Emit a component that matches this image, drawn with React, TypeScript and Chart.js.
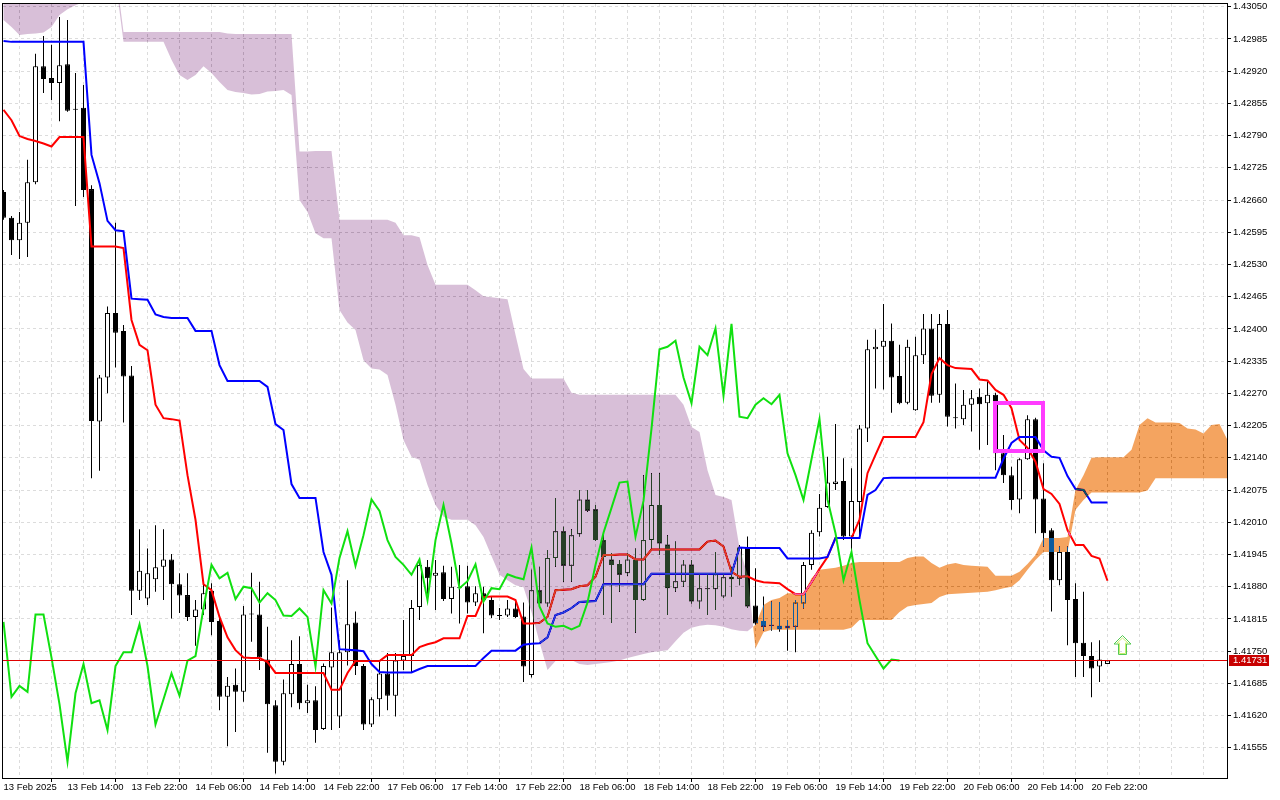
import { useEffect, useRef } from 'react'
import { Chart, registerables } from 'chart.js'

Chart.register(...registerables)

// EURUSD-like H1 ichimoku view, bar index 0 = 13 Feb 06:00
const dateLabels = [
  '13 Feb 2025', '13 Feb 14:00', '13 Feb 22:00', '14 Feb 06:00', '14 Feb 14:00', '14 Feb 22:00',
  '17 Feb 06:00', '17 Feb 14:00', '17 Feb 22:00', '18 Feb 06:00', '18 Feb 14:00', '18 Feb 22:00',
  '19 Feb 06:00', '19 Feb 14:00', '19 Feb 22:00', '20 Feb 06:00', '20 Feb 14:00', '20 Feb 22:00',
]

const priceTicks = [
  1.41555, 1.4162, 1.41685, 1.4175, 1.41815, 1.4188, 1.41945, 1.4201, 1.42075, 1.4214, 1.42205, 1.4227,
  1.42335, 1.424, 1.42465, 1.4253, 1.42595, 1.4266, 1.42725, 1.4279, 1.42855, 1.4292, 1.42985, 1.4305,
]

const opens = [
  1.42676, 1.42624, 1.42579, 1.42614, 1.42696, 1.42930, 1.42906, 1.42896, 1.42934, 1.42844,
  1.42846, 1.42682, 1.42213, 1.42302, 1.42432, 1.42396, 1.42306, 1.41872, 1.41856, 1.41895,
  1.41920, 1.41935, 1.41885, 1.41863, 1.41819, 1.41834, 1.41872, 1.41811, 1.41658, 1.41682,
  1.41668, 1.41825, 1.41824, 1.41733, 1.41641, 1.41527, 1.41663, 1.41724, 1.41645, 1.41651,
  1.41593, 1.41717, 1.41618, 1.41748, 1.41808, 1.41720, 1.41602, 1.41653, 1.41705, 1.41660,
  1.41731, 1.41740, 1.41839, 1.41920, 1.41902, 1.41909, 1.41855, 1.41879, 1.41881, 1.41848,
  1.41867, 1.41853, 1.41823, 1.41822, 1.41836, 1.41820, 1.41702, 1.41873, 1.41846, 1.41938,
  1.41992, 1.41922, 1.41986, 1.42056, 1.42036, 1.41974, 1.41935, 1.41926, 1.41907, 1.41934,
  1.41853, 1.41974, 1.42045, 1.41965, 1.41877, 1.41890, 1.41925, 1.41850, 1.41877, 1.41875,
  1.41860, 1.41900, 1.41896, 1.41959, 1.41842, 1.41811, 1.41802, 1.41801, 1.41796, 1.41799,
  1.41846, 1.41924, 1.41990, 1.42041, 1.42087, 1.42093, 1.41981, 1.42051, 1.42199, 1.42359,
  1.42364, 1.42376, 1.42305, 1.42251, 1.42236, 1.42347, 1.42401, 1.42267, 1.42410, 1.42221,
  1.42218, 1.42247, 1.42263, 1.42250, 1.42267, 1.42149, 1.42105, 1.42056, 1.42137, 1.42218,
  1.42058, 1.41994, 1.41893, 1.41950, 1.41855, 1.41767, 1.41740, 1.41719, 1.41724,
]

const highs = [
  1.42680, 1.42628, 1.42636, 1.42741, 1.42955, 1.42991, 1.42973, 1.43029, 1.43023, 1.42916,
  1.42892, 1.42690, 1.42307, 1.42445, 1.42614, 1.42408, 1.42325, 1.41996, 1.41957, 1.42004,
  1.41996, 1.41946, 1.41907, 1.41907, 1.41853, 1.41887, 1.41887, 1.41817, 1.41698, 1.41715,
  1.41841, 1.41908, 1.41890, 1.41799, 1.41651, 1.41693, 1.41772, 1.41780, 1.41682, 1.41679,
  1.41725, 1.41838, 1.41772, 1.41893, 1.41830, 1.41724, 1.41657, 1.41732, 1.41746, 1.41746,
  1.41813, 1.41853, 1.41938, 1.41934, 1.41934, 1.41922, 1.41920, 1.41924, 1.41922, 1.41881,
  1.41880, 1.41861, 1.41837, 1.41853, 1.41853, 1.41848, 1.41914, 1.41920, 1.41954, 1.42059,
  1.42001, 1.41996, 1.42075, 1.42075, 1.42045, 1.41984, 1.41948, 1.41934, 1.41948, 1.41957,
  1.42105, 1.42109, 1.42109, 1.41984, 1.41971, 1.41934, 1.41934, 1.41907, 1.41907, 1.41950,
  1.41907, 1.41920, 1.41964, 1.41981, 1.41917, 1.41860, 1.41850, 1.41849, 1.41813, 1.41853,
  1.41930, 1.41994, 1.42067, 1.42142, 1.42208, 1.42139, 1.42119, 1.42206, 1.42378, 1.42399,
  1.42450, 1.42411, 1.42368, 1.42378, 1.42384, 1.42430, 1.42430, 1.42430, 1.42438, 1.42290,
  1.42277, 1.42277, 1.42280, 1.42294, 1.42271, 1.42186, 1.42122, 1.42139, 1.42226, 1.42221,
  1.42129, 1.41998, 1.41961, 1.41961, 1.41887, 1.41870, 1.41768, 1.41772, 1.41731,
]

const lows = [
  1.42620, 1.42549, 1.42541, 1.42545, 1.42692, 1.42876, 1.42862, 1.42819, 1.42838, 1.42648,
  1.42666, 1.42099, 1.42114, 1.42270, 1.42322, 1.42211, 1.41823, 1.41853, 1.41843, 1.41870,
  1.41853, 1.41816, 1.41827, 1.41811, 1.41761, 1.41823, 1.41782, 1.41631, 1.41558, 1.41587,
  1.41648, 1.41769, 1.41712, 1.41545, 1.41503, 1.41520, 1.41637, 1.41633, 1.41625, 1.41565,
  1.41591, 1.41591, 1.41595, 1.41721, 1.41702, 1.41591, 1.41597, 1.41618, 1.41631, 1.41618,
  1.41712, 1.41708, 1.41813, 1.41853, 1.41833, 1.41851, 1.41826, 1.41806, 1.41826, 1.41841,
  1.41786, 1.41817, 1.41813, 1.41819, 1.41817, 1.41688, 1.41697, 1.41845, 1.41840, 1.41920,
  1.41890, 1.41890, 1.41981, 1.42031, 1.41972, 1.41823, 1.41807, 1.41870, 1.41902, 1.41787,
  1.41851, 1.41957, 1.41944, 1.41823, 1.41870, 1.41880, 1.41846, 1.41836, 1.41823, 1.41833,
  1.41857, 1.41860, 1.41883, 1.41837, 1.41803, 1.41791, 1.41791, 1.41789, 1.41751, 1.41748,
  1.41836, 1.41914, 1.41981, 1.42039, 1.42075, 1.41974, 1.41954, 1.41981, 1.42172, 1.42280,
  1.42278, 1.42231, 1.42248, 1.42248, 1.42235, 1.42329, 1.42251, 1.42251, 1.42203, 1.42199,
  1.42206, 1.42193, 1.42156, 1.42166, 1.42115, 1.42089, 1.42035, 1.42028, 1.42136, 1.41988,
  1.41961, 1.41830, 1.41883, 1.41762, 1.41698, 1.41698, 1.41657, 1.41688, 1.41724,
]

const closes = [
  1.42624, 1.42579, 1.42614, 1.42696, 1.42930, 1.42904, 1.42896, 1.42932, 1.42840, 1.42842,
  1.42680, 1.42214, 1.42302, 1.42432, 1.42392, 1.42304, 1.41872, 1.41912, 1.41907, 1.41919,
  1.41935, 1.41885, 1.41862, 1.41819, 1.41834, 1.41867, 1.41809, 1.41658, 1.41680, 1.41668,
  1.41824, 1.41824, 1.41737, 1.41643, 1.41527, 1.41665, 1.41724, 1.41645, 1.41651, 1.41591,
  1.41720, 1.41748, 1.41748, 1.41804, 1.41720, 1.41602, 1.41653, 1.41705, 1.41660, 1.41731,
  1.41740, 1.41837, 1.41924, 1.41897, 1.41908, 1.41855, 1.41880, 1.41877, 1.41848, 1.41867,
  1.41853, 1.41822, 1.41821, 1.41836, 1.41819, 1.41719, 1.41873, 1.41846, 1.41938, 1.41992,
  1.41922, 1.41984, 1.42056, 1.42033, 1.41974, 1.41940, 1.41924, 1.41904, 1.41935, 1.41853,
  1.41974, 1.42045, 1.41967, 1.41877, 1.41891, 1.41925, 1.41850, 1.41877, 1.41875, 1.41905,
  1.41899, 1.41895, 1.41959, 1.41840, 1.41806, 1.41799, 1.41801, 1.41794, 1.41801, 1.41848,
  1.41924, 1.41989, 1.42039, 1.42090, 1.42092, 1.41981, 1.42053, 1.42199, 1.42359, 1.42364,
  1.42376, 1.42302, 1.42250, 1.42364, 1.42347, 1.42401, 1.42265, 1.42410, 1.42223, 1.42220,
  1.42247, 1.42260, 1.42248, 1.42267, 1.42149, 1.42105, 1.42055, 1.42137, 1.42218, 1.42056,
  1.41988, 1.41893, 1.41950, 1.41853, 1.41766, 1.41740, 1.41715, 1.41733, 1.41731,
]

const tenkan = [
  1.42842, 1.42821, 1.42789, 1.42783, 1.42779, 1.42774, 1.42768, 1.42787, 1.42787, 1.42787,
  1.42787, 1.42566, 1.42566, 1.42566, 1.42566, 1.42563, 1.42418, 1.42368, 1.42357, 1.42247,
  1.42220, 1.42218, 1.42215, 1.42105, 1.42015, 1.41885, 1.41873, 1.41819, 1.41778, 1.41752,
  1.41737, 1.41736, 1.41736, 1.41728, 1.41706, 1.41706, 1.41706, 1.41706, 1.41706, 1.41706,
  1.41706, 1.41672, 1.41672, 1.41706, 1.41730, 1.41730, 1.41730, 1.41730, 1.41742, 1.41742,
  1.41742, 1.41742, 1.41758, 1.41764, 1.41768, 1.41776, 1.41776, 1.41776, 1.41821, 1.41821,
  1.41859, 1.41860, 1.41860, 1.41860, 1.41853, 1.41806, 1.41806, 1.41807, 1.41819, 1.41873,
  1.41874, 1.41875, 1.41881, 1.41883, 1.41900, 1.41944, 1.41944, 1.41945, 1.41945, 1.41935,
  1.41935, 1.41955, 1.41955, 1.41955, 1.41955, 1.41955, 1.41955, 1.41955, 1.41971, 1.41973,
  1.41961, 1.41910, 1.41900, 1.41901, 1.41893, 1.41889, 1.41888, 1.41887, 1.41875, 1.41865,
  1.41865, 1.41889, 1.41916, 1.41940, 1.41978, 1.41978, 1.41978, 1.42015, 1.42109, 1.42146,
  1.42182, 1.42182, 1.42182, 1.42182, 1.42182, 1.42212, 1.42309, 1.42341, 1.42327, 1.42321,
  1.42320, 1.42319, 1.42298, 1.42296, 1.42277, 1.42267, 1.42240, 1.42176, 1.42160, 1.42132,
  1.42077, 1.42067, 1.42047, 1.41994, 1.41964, 1.41964, 1.41942, 1.41937, 1.41892,
]

const kijun = [
  1.42981, 1.42979, 1.42979, 1.42979, 1.42979, 1.42979, 1.42979, 1.42979, 1.42979, 1.42979,
  1.42979, 1.42751, 1.42694, 1.42618, 1.42599, 1.42597, 1.42461, 1.42460, 1.42459, 1.42429,
  1.42424, 1.42422, 1.42422, 1.42422, 1.42396, 1.42396, 1.42396, 1.42327, 1.42295, 1.42295,
  1.42295, 1.42295, 1.42295, 1.42283, 1.42208, 1.42196, 1.42087, 1.42059, 1.42059, 1.42059,
  1.41950, 1.41904, 1.41754, 1.41753, 1.41752, 1.41750, 1.41724, 1.41708, 1.41707, 1.41707,
  1.41707, 1.41707, 1.41714, 1.41720, 1.41720, 1.41720, 1.41720, 1.41720, 1.41720, 1.41720,
  1.41736, 1.41751, 1.41751, 1.41751, 1.41751, 1.41763, 1.41765, 1.41766, 1.41778, 1.41823,
  1.41828, 1.41837, 1.41849, 1.41850, 1.41851, 1.41885, 1.41885, 1.41885, 1.41885, 1.41885,
  1.41885, 1.41906, 1.41906, 1.41906, 1.41906, 1.41906, 1.41906, 1.41906, 1.41906, 1.41906,
  1.41906, 1.41906, 1.41959, 1.41958, 1.41958, 1.41958, 1.41958, 1.41958, 1.41937, 1.41937,
  1.41937, 1.41937, 1.41937, 1.41940, 1.41978, 1.41978, 1.41978, 1.41978, 1.42065, 1.42075,
  1.42099, 1.42100, 1.42100, 1.42100, 1.42100, 1.42100, 1.42100, 1.42100, 1.42100, 1.42100,
  1.42100, 1.42100, 1.42100, 1.42100, 1.42100, 1.42138, 1.42170, 1.42182, 1.42182, 1.42182,
  1.42155, 1.42142, 1.42140, 1.42103, 1.42077, 1.42075, 1.42050, 1.42050, 1.42050,
]

// senkou spans, already shifted 26 bars forward (runs past the last candle)
const spanA = [
  1.43023, 1.43009, 1.42993, 1.42995, 1.42996, 1.42998, 1.43009, 1.43033, 1.43045, 1.43053,
  1.43059, 1.43104, 1.43104, 1.43104, 1.43104, 1.42979, 1.42979, 1.42979, 1.42979, 1.42979,
  1.42979, 1.42943, 1.42912, 1.42902, 1.42912, 1.42930, 1.42916, 1.42898, 1.42882, 1.42878,
  1.42876, 1.42873, 1.42874, 1.42879, 1.42880, 1.42882, 1.42872, 1.42660, 1.42636, 1.42593,
  1.42583, 1.42583, 1.42438, 1.42413, 1.42398, 1.42337, 1.42320, 1.42318, 1.42307, 1.42247,
  1.42176, 1.42142, 1.42136, 1.42085, 1.42045, 1.42021, 1.42015, 1.42015, 1.42015, 1.42004,
  1.41980, 1.41942, 1.41904, 1.41893, 1.41883, 1.41879, 1.41829, 1.41768, 1.41712, 1.41730,
  1.41732, 1.41732, 1.41724, 1.41722, 1.41724, 1.41726, 1.41728, 1.41731, 1.41736, 1.41740,
  1.41744, 1.41748, 1.41750, 1.41752, 1.41770, 1.41787, 1.41797, 1.41801, 1.41803, 1.41802,
  1.41799, 1.41794, 1.41791, 1.41790, 1.41803, 1.41843, 1.41853, 1.41857, 1.41867, 1.41867,
  1.41867, 1.41897, 1.41914, 1.41916, 1.41918, 1.41922, 1.41928, 1.41930, 1.41930, 1.41930,
  1.41930, 1.41930, 1.41930, 1.41938, 1.41941, 1.41941, 1.41928, 1.41918, 1.41925, 1.41928,
  1.41924, 1.41922, 1.41921, 1.41920, 1.41902, 1.41902, 1.41902, 1.41910, 1.41926, 1.41944,
  1.41978, 1.41978, 1.41978, 1.41980, 1.42075, 1.42105, 1.42140, 1.42141, 1.42141, 1.42141,
  1.42141, 1.42156, 1.42206, 1.42220, 1.42211, 1.42211, 1.42211, 1.42210, 1.42199, 1.42197,
  1.42189, 1.42206, 1.42208, 1.42176,
]

const spanB = [
  1.43124, 1.43124, 1.43124, 1.43124, 1.43124, 1.43124, 1.43124, 1.43124, 1.43124, 1.43124,
  1.43124, 1.43124, 1.43124, 1.43124, 1.43124, 1.42999, 1.42999, 1.42999, 1.42999, 1.42999,
  1.42999, 1.42999, 1.42999, 1.42999, 1.42999, 1.42999, 1.42999, 1.42999, 1.42996, 1.42995,
  1.42995, 1.42995, 1.42995, 1.42995, 1.42995, 1.42995, 1.42995, 1.42758, 1.42758, 1.42759,
  1.42759, 1.42759, 1.42620, 1.42620, 1.42620, 1.42620, 1.42620, 1.42620, 1.42620, 1.42614,
  1.42589, 1.42589, 1.42585, 1.42529, 1.42489, 1.42489, 1.42489, 1.42489, 1.42489, 1.42478,
  1.42466, 1.42464, 1.42462, 1.42460, 1.42388, 1.42319, 1.42300, 1.42300, 1.42300, 1.42300,
  1.42300, 1.42271, 1.42267, 1.42267, 1.42267, 1.42267, 1.42267, 1.42267, 1.42267, 1.42267,
  1.42267, 1.42267, 1.42267, 1.42267, 1.42267, 1.42247, 1.42202, 1.42192, 1.42115, 1.42065,
  1.42061, 1.42055, 1.41958, 1.41904, 1.41756, 1.41788, 1.41793, 1.41793, 1.41793, 1.41793,
  1.41793, 1.41793, 1.41793, 1.41793, 1.41793, 1.41793, 1.41797, 1.41813, 1.41813, 1.41813,
  1.41813, 1.41813, 1.41829, 1.41840, 1.41843, 1.41845, 1.41847, 1.41859, 1.41865, 1.41866,
  1.41867, 1.41868, 1.41869, 1.41870, 1.41873, 1.41877, 1.41880, 1.41893, 1.41914, 1.41934,
  1.41950, 1.41950, 1.41950, 1.41950, 1.42035, 1.42055, 1.42070, 1.42070, 1.42070, 1.42070,
  1.42070, 1.42070, 1.42070, 1.42074, 1.42099, 1.42099, 1.42099, 1.42099, 1.42099, 1.42099,
  1.42099, 1.42099, 1.42099, 1.42099,
]

const CHIKOU_SHIFT = 26
const lastPrice = 1.41731
const boxBars = [124, 130]
const boxPrices = [1.42251, 1.42153]
const arrowBar = 140
const arrowPrice = 1.41782

const gridBars = Array.from({ length: 39 }, (_, k) => k * 4)
const font = { family: 'Liberation Sans', size: 9.5 }
const isLabelled = (v: number) => v % 8 === 0 && v / 8 < dateLabels.length

const paperPlugin = {
  id: 'paper',
  beforeDraw(chart: Chart) {
    const { ctx, width, height } = chart
    ctx.save()
    ctx.fillStyle = '#ffffff'
    ctx.fillRect(0, 0, width, height)
    ctx.restore()
  },
}

// MT5 paints the kumo in XOR mode, so candles and lines below it come out inverted
const kumoPlugin = {
  id: 'kumo',
  afterDatasetDraw(chart: Chart, args: { index: number }) {
    if (chart.data.datasets[args.index].label !== 'Kijun-sen') return
    const { ctx, chartArea: a, scales } = chart
    const xs = scales.x
    const ys = scales.y
    const bull = new Path2D()
    const bear = new Path2D()
    const poly = (p: Path2D, pts: number[][]) => {
      p.moveTo(pts[0][0], pts[0][1])
      for (let k = 1; k < pts.length; k++) p.lineTo(pts[k][0], pts[k][1])
      p.closePath()
    }
    for (let i = 0; i < spanA.length - 1; i++) {
      const x0 = xs.getPixelForValue(i)
      const x1 = xs.getPixelForValue(i + 1)
      const a0 = ys.getPixelForValue(spanA[i])
      const a1 = ys.getPixelForValue(spanA[i + 1])
      const b0 = ys.getPixelForValue(spanB[i])
      const b1 = ys.getPixelForValue(spanB[i + 1])
      const d0 = spanA[i] - spanB[i]
      const d1 = spanA[i + 1] - spanB[i + 1]
      if (d0 * d1 < 0) {
        const t = d0 / (d0 - d1)
        const xc = x0 + (x1 - x0) * t
        const yc = a0 + (a1 - a0) * t
        poly(d0 > 0 ? bull : bear, [[x0, a0], [xc, yc], [x0, b0]])
        poly(d1 > 0 ? bull : bear, [[xc, yc], [x1, a1], [x1, b1]])
      } else {
        poly(d0 + d1 >= 0 ? bull : bear, [[x0, a0], [x1, a1], [x1, b1], [x0, b0]])
      }
    }
    ctx.save()
    ctx.beginPath()
    ctx.rect(a.left, a.top, a.right - a.left, a.bottom - a.top)
    ctx.clip()
    ctx.globalCompositeOperation = 'difference'
    ctx.fillStyle = '#0b5b9f' // inverse of sandybrown
    ctx.fill(bull)
    ctx.fillStyle = '#274027' // inverse of thistle
    ctx.fill(bear)
    ctx.restore()
  },
}

const overlayPlugin = {
  id: 'overlay',
  afterDatasetsDraw(chart: Chart) {
    const { ctx, chartArea: a, scales } = chart
    const xs = scales.x
    const ys = scales.y
    ctx.save()
    ctx.beginPath()
    ctx.rect(a.left, a.top, a.right - a.left, a.bottom - a.top)
    ctx.clip()

    const py = Math.floor(ys.getPixelForValue(lastPrice)) + 0.5
    ctx.strokeStyle = '#e00000'
    ctx.lineWidth = 1
    ctx.beginPath()
    ctx.moveTo(a.left, py)
    ctx.lineTo(a.right, py)
    ctx.stroke()

    const rx0 = Math.round(xs.getPixelForValue(boxBars[0])) - 1
    const rx1 = Math.round(xs.getPixelForValue(boxBars[1])) - 1
    const ry0 = Math.round(ys.getPixelForValue(boxPrices[0]))
    const ry1 = Math.round(ys.getPixelForValue(boxPrices[1]))
    ctx.strokeStyle = '#ff3cff'
    ctx.lineWidth = 4
    ctx.strokeRect(rx0, ry0, rx1 - rx0, ry1 - ry0)

    const ax = Math.round(xs.getPixelForValue(arrowBar)) - 1.5
    const ay = Math.round(ys.getPixelForValue(arrowPrice)) + 0.5
    const outer = [[0, 0], [8.5, 8.5], [4, 8.5], [4, 19], [-4, 19], [-4, 8.5], [-8.5, 8.5]]
    const inner = [[0, 2.5], [5.5, 7.5], [3, 7.5], [3, 18], [-3, 18], [-3, 7.5], [-5.5, 7.5]]
    const arrow = (pts: number[][], color: string) => {
      ctx.beginPath()
      pts.forEach(([dx, dy], k) => (k ? ctx.lineTo(ax + dx, ay + dy) : ctx.moveTo(ax + dx, ay + dy)))
      ctx.closePath()
      ctx.strokeStyle = color
      ctx.lineWidth = 1
      ctx.stroke()
    }
    ctx.fillStyle = '#ffffff'
    arrow(outer, '#52c952')
    arrow(inner, '#c9ee72')
    ctx.restore()
  },
  afterDraw(chart: Chart) {
    const { ctx, chartArea: a, scales } = chart
    ctx.save()
    ctx.strokeStyle = '#000000'
    ctx.lineWidth = 1
    ctx.strokeRect(a.left - 0.5, a.top - 0.5, a.right - a.left + 1, a.bottom - a.top + 1)

    const py = Math.floor(scales.y.getPixelForValue(lastPrice))
    ctx.fillStyle = '#c80000'
    ctx.fillRect(a.right + 2, py - 5, 40, 11)
    ctx.fillStyle = '#ffffff'
    ctx.font = '9.5px "Liberation Sans"'
    ctx.textAlign = 'left'
    ctx.textBaseline = 'middle'
    ctx.fillText(lastPrice.toFixed(5), a.right + 6, py + 0.5)
    ctx.restore()
  },
}

export default function App() {
  const canvasRef = useRef<HTMLCanvasElement>(null)

  useEffect(() => {
    if (!canvasRef.current) return

    const chart = new Chart(canvasRef.current, {
      type: 'line',
      data: {
        datasets: [
          {
            type: 'bar',
            label: 'wicks',
            data: highs.map((h, i) => ({ x: i, y: [lows[i], h] })),
            backgroundColor: '#000000',
            borderWidth: 0,
            barThickness: 1,
            grouped: false,
            inflateAmount: 0,
            order: 6,
            clip: 0,
          },
          {
            type: 'bar',
            label: 'bodies',
            data: opens.map((o, i) => ({ x: i, y: [o, closes[i]] })),
            backgroundColor: opens.map((o, i) => (closes[i] >= o ? '#ffffff' : '#000000')),
            borderColor: '#000000',
            borderWidth: 1,
            borderSkipped: false,
            barThickness: 5,
            minBarLength: 1,
            grouped: false,
            inflateAmount: 0,
            order: 5,
            clip: 0,
          },
          {
            label: 'Tenkan-sen',
            data: tenkan.map((v, i) => ({ x: i, y: v })),
            borderColor: '#ff0000',
            borderWidth: 2,
            pointRadius: 0,
            tension: 0,
            order: 4,
            clip: 0,
          },
          {
            label: 'Kijun-sen',
            data: kijun.map((v, i) => ({ x: i, y: v })),
            borderColor: '#0000ff',
            borderWidth: 2,
            pointRadius: 0,
            tension: 0,
            order: 3,
            clip: 0,
          },
          {
            label: 'Chikou Span',
            data: closes.slice(CHIKOU_SHIFT).map((v, i) => ({ x: i, y: v })),
            borderColor: '#10e010',
            borderWidth: 2,
            pointRadius: 0,
            tension: 0,
            order: 2,
            clip: 0,
          },
        ],
      },
      options: {
        responsive: true,
        maintainAspectRatio: false,
        animation: false,
        events: [],
        layout: { padding: { left: 3, top: 4, right: 0, bottom: 0 } },
        plugins: { legend: { display: false }, tooltip: { enabled: false } },
        scales: {
          x: {
            type: 'linear',
            min: -0.0625,
            max: 152.9375,
            offset: false,
            bounds: 'data',
            afterBuildTicks: (s: any) => { s.ticks = gridBars.map((value) => ({ value })) },
            afterFit: (s: any) => { s.height = 22; s.paddingLeft = 0; s.paddingRight = 0 },
            ticks: {
              autoSkip: false,
              maxRotation: 0,
              minRotation: 0,
              align: 'start',
              padding: 0,
              color: '#000000',
              font,
              callback: (v: any) => (isLabelled(Number(v)) ? dateLabels[Number(v) / 8] : ''),
            },
            grid: {
              color: (c: any) => (c.tick && c.tick.value === 0 ? 'rgba(0,0,0,0)' : '#dcdcdc'),
              lineWidth: 1,
              drawTicks: true,
              tickLength: 4,
              tickWidth: 1,
              tickColor: (c: any) => (c.tick && isLabelled(c.tick.value) ? '#000000' : 'rgba(0,0,0,0)'),
              tickBorderDash: [],
              borderDash: [3, 3],
            },
            border: { display: false, dash: [3, 3] },
          },
          y: {
            type: 'linear',
            position: 'right',
            min: 1.414941,
            max: 1.430554,
            bounds: 'data',
            beginAtZero: false,
            afterBuildTicks: (s: any) => { s.ticks = priceTicks.map((value) => ({ value })) },
            afterFit: (s: any) => { s.width = 53; s.paddingTop = 0; s.paddingBottom = 0 },
            ticks: {
              autoSkip: false,
              padding: 2,
              crossAlign: 'near',
              color: '#000000',
              font,
              callback: (v: any) => Number(v).toFixed(5),
            },
            grid: {
              color: '#dcdcdc',
              lineWidth: 1,
              drawTicks: true,
              tickLength: 4,
              tickColor: '#000000',
              tickBorderDash: [],
              borderDash: [3, 3],
            },
            border: { display: false, dash: [3, 3] },
          },
        },
      },
      plugins: [paperPlugin, kumoPlugin, overlayPlugin],
    } as any)

    return () => { chart.destroy() }
  }, [])

  return (
    <div style={{ position: 'fixed', left: 0, top: 0, width: 1280, height: 800, background: '#ffffff' }}>
      <canvas ref={canvasRef} />
    </div>
  )
}
